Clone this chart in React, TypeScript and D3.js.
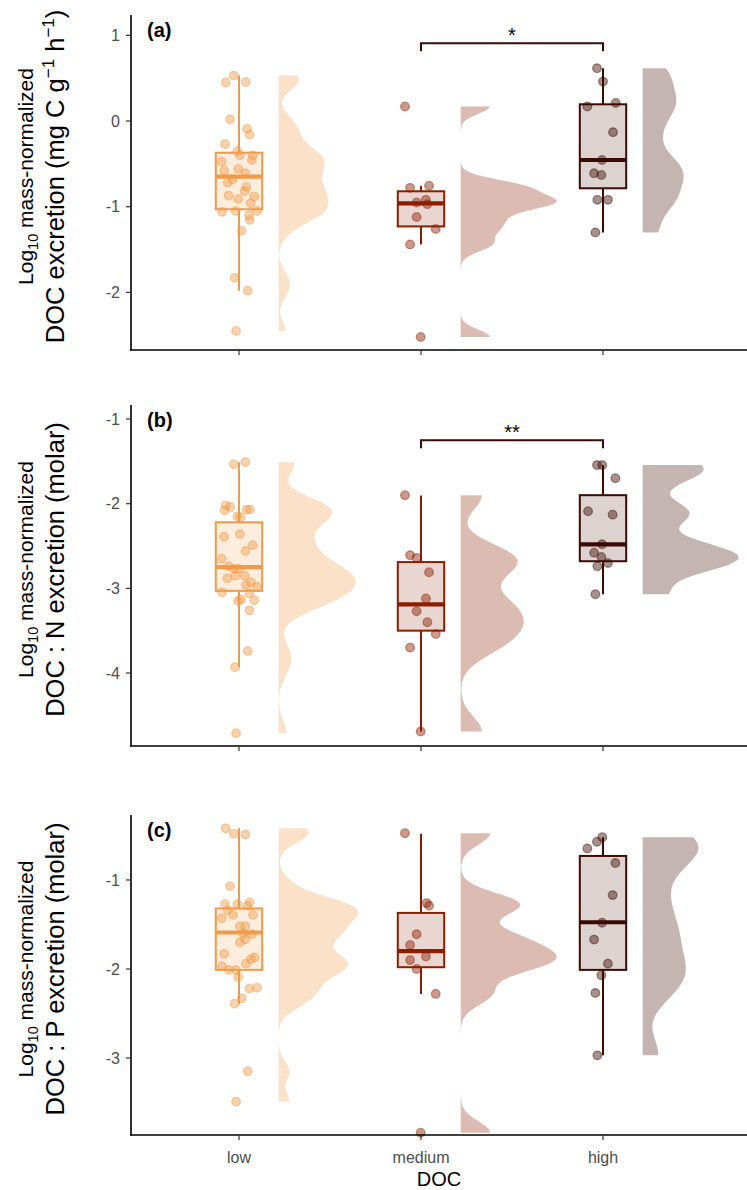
import React from 'react';
import * as d3 from 'd3';

const categories = ['low', 'medium', 'high'];
const colors = ['#EF9B4A', '#8B1E02', '#3B0A02'];

// [value, horizontal jitter in category units]
const aLow: [number, number][] = [
  [0.53, -0.029], [0.45, -0.073], [0.455, 0.037], [0.02, -0.049], [-0.09, 0.044], [-0.16, 0.059],
  [-0.27, -0.077], [-0.35, -0.009], [-0.40, 0.005], [-0.40, 0.075], [-0.455, 0.071], [-0.475, -0.095],
  [-0.58, -0.081], [-0.56, -0.004], [-0.61, 0.035], [-0.68, -0.035], [-0.72, -0.062], [-0.77, 0.040],
  [-0.82, 0.031], [-0.87, -0.057], [-0.88, 0.084], [-0.91, -0.004], [-0.96, 0.064], [-1.06, -0.093],
  [-1.05, -0.018], [-1.05, 0.099], [-1.10, 0.055], [-1.155, 0.059], [-1.28, 0.015], [-1.83, -0.024],
  [-1.98, 0.048], [-2.45, -0.016],
];
const aMed: [number, number][] = [
  [0.17, -0.088], [-0.78, -0.060], [-0.755, 0.044], [-0.95, -0.024], [-0.92, 0.027], [-0.97, 0.035],
  [-1.12, -0.024], [-1.26, 0.081], [-1.44, -0.060], [-2.52, -0.002],
];
const aHigh: [number, number][] = [
  [0.615, -0.033], [0.46, 0], [0.17, -0.086], [0.21, 0.070], [-0.13, 0.055], [-0.455, -0.005],
  [-0.61, -0.049], [-0.63, -0.009], [-0.92, -0.031], [-0.92, 0.027], [-1.30, -0.042],
];
const bLow: [number, number][] = [
  [-1.535, -0.029], [-1.51, 0.035], [-2.02, -0.073], [-2.08, -0.079], [-2.04, -0.048], [-2.07, 0.042],
  [-2.07, 0.060], [-2.15, -0.009], [-2.16, 0.009], [-2.39, -0.082], [-2.36, 0.005], [-2.49, 0.075],
  [-2.56, 0.035], [-2.65, -0.095], [-2.74, -0.057], [-2.77, -0.026], [-2.77, -0.002], [-2.88, -0.064],
  [-2.85, -0.020], [-2.85, 0.031], [-2.93, 0.066], [-2.96, 0.038], [-2.98, 0.099], [-3.05, -0.093],
  [-3.06, 0.057], [-3.13, 0.011], [-3.15, -0.005], [-3.14, 0.084], [-3.26, 0.057], [-3.74, 0.048],
  [-3.93, -0.022], [-4.71, -0.016],
];
const bMed: [number, number][] = [
  [-1.90, -0.088], [-2.61, -0.060], [-2.64, -0.024], [-2.81, 0.044], [-3.12, 0.027], [-3.27, -0.024],
  [-3.40, 0.035], [-3.54, 0.081], [-3.70, -0.060], [-4.69, -0.002],
];
const bHigh: [number, number][] = [
  [-1.545, -0.033], [-1.545, -0.004], [-1.70, 0.068], [-2.09, -0.082], [-2.13, 0.053], [-2.48, -0.005],
  [-2.58, -0.049], [-2.63, -0.009], [-2.74, -0.031], [-2.70, 0.027], [-3.07, -0.042],
];
const cLow: [number, number][] = [
  [-0.42, -0.073], [-0.48, -0.029], [-0.49, 0.035], [-1.07, -0.049], [-1.27, -0.077], [-1.27, -0.009],
  [-1.25, 0.059], [-1.29, 0.046], [-1.34, -0.062], [-1.39, -0.033], [-1.39, 0.077], [-1.43, -0.095],
  [-1.52, 0.005], [-1.52, 0.035], [-1.60, 0.024], [-1.61, 0.071], [-1.67, 0.033], [-1.70, 0.005],
  [-1.83, -0.082], [-1.89, 0.066], [-1.87, 0.084], [-1.94, 0.038], [-1.97, -0.093], [-2.01, -0.057],
  [-2.01, -0.018], [-2.09, -0.004], [-2.22, 0.057], [-2.21, 0.099], [-2.33, 0.015], [-2.39, -0.024],
  [-3.15, 0.048], [-3.49, -0.016],
];
const cMed: [number, number][] = [
  [-0.475, -0.088], [-1.26, 0.031], [-1.29, 0.044], [-1.61, -0.024], [-1.73, -0.060], [-1.86, 0.027],
  [-1.90, -0.060], [-2.00, -0.024], [-2.28, 0.081], [-3.84, -0.002],
];
const cHigh: [number, number][] = [
  [-0.52, -0.004], [-0.57, -0.033], [-0.645, -0.086], [-0.81, 0.068], [-1.17, 0.053], [-1.48, -0.005],
  [-1.67, -0.049], [-1.94, 0.027], [-2.07, -0.009], [-2.27, -0.042], [-2.97, -0.031],
];

// box stats: [lower whisker, q1, median, q3, upper whisker]
const aBoxes = [[-1.98, -1.03, -0.65, -0.37, 0.53], [-1.44, -1.23, -0.96, -0.82, -0.755], [-1.30, -0.785, -0.455, 0.195, 0.615]];
const bBoxes = [[-3.93, -3.03, -2.75, -2.22, -1.51], [-4.69, -3.50, -3.19, -2.69, -1.905], [-3.07, -2.68, -2.48, -1.90, -1.545]];
const cBoxes = [[-2.39, -2.01, -1.59, -1.32, -0.42], [-2.28, -1.98, -1.80, -1.37, -0.48], [-2.97, -2.01, -1.475, -0.73, -0.52]];

const aTicks = [1, 0, -1, -2];
const bTicks = [-1, -2, -3, -4];
const cTicks = [-1, -2, -3];

const aSig = { from: 2, to: 3, y: 0.907, label: '*' };
const bSig = { from: 2, to: 3, y: -1.25, label: '**' };

const FONT = '"Liberation Sans", Arial, Helvetica, sans-serif';
const BW_ADJUST = 0.5;

function nrd0(vals: number[]) {
  const s = vals.slice().sort(d3.ascending);
  const sd = d3.deviation(s) || 1;
  const iqr = (d3.quantileSorted(s, 0.75)! - d3.quantileSorted(s, 0.25)!) / 1.34;
  const lo = Math.min(sd, iqr > 0 ? iqr : sd);
  return 0.9 * lo * Math.pow(s.length, -0.2);
}

function kde(vals: number[]) {
  const bw = nrd0(vals) * BW_ADJUST;
  const mn = d3.min(vals)!, mx = d3.max(vals)!;
  const n = 256;
  const out: [number, number][] = [];
  for (let i = 0; i < n; i++) {
    const y = mn + ((mx - mn) * i) / (n - 1);
    let s = 0;
    for (const v of vals) {
      const z = (y - v) / bw;
      s += Math.exp(-0.5 * z * z);
    }
    out.push([y, s / (vals.length * bw * Math.sqrt(2 * Math.PI))]);
  }
  return out;
}

type PanelProps = {
  groups: [number, number][][];
  boxes: number[][];
  ticks: number[];
  domain: [number, number];
  range: [number, number];
  tag: string;
  sig?: { from: number; to: number; y: number; label: string };
  showX: boolean;
  line2: React.ReactNode;
};

const x = d3.scaleLinear().domain([1, 3]).range([239, 603]);
const X_LEFT = 131;
const X_RIGHT = 747;
const BOX_W = 0.255;
const VIOLIN_OFF = 0.218;
const VIOLIN_MAX = 96;

function Panel({ groups, boxes, ticks, domain, range, tag, sig, showX, line2 }: PanelProps) {
  const y = d3.scaleLinear().domain(domain).range(range);
  const dens = groups.map((g) => kde(g.map((d) => d[0])));
  const maxD = d3.max(dens.flat(), (d) => d[1])!;
  const w = d3.scaleLinear().domain([0, maxD]).range([0, VIOLIN_MAX]);
  const bottom = range[0];
  const top = range[1];
  const mid = (top + bottom) / 2 - 6;
  return (
    <g>
      {dens.map((dd, i) => {
        const x0 = x(i + 1 + VIOLIN_OFF);
        const area = d3
          .area<[number, number]>()
          .y((d) => y(d[0]))
          .x0(x0)
          .x1((d) => x0 + w(d[1]));
        return <path key={'v' + i} d={area(dd)!} fill={colors[i]} fillOpacity={0.3} />;
      })}
      {boxes.map((b, i) => {
        const cx = x(i + 1);
        const hw = (x(1 + BOX_W) - x(1)) / 2;
        return (
          <g key={'b' + i} stroke={colors[i]}>
            <line x1={cx} x2={cx} y1={y(b[0])} y2={y(b[1])} strokeWidth={2} />
            <line x1={cx} x2={cx} y1={y(b[3])} y2={y(b[4])} strokeWidth={2} />
            <rect x={cx - hw} width={2 * hw} y={y(b[3])} height={y(b[1]) - y(b[3])} fill={colors[i]} fillOpacity={0.18} strokeWidth={2} />
            <line x1={cx - hw} x2={cx + hw} y1={y(b[2])} y2={y(b[2])} strokeWidth={4.2} />
          </g>
        );
      })}
      {groups.map((g, i) =>
        g.map((p, j) => (
          <circle
            key={'p' + i + '-' + j}
            cx={x(i + 1 + p[1])}
            cy={y(p[0])}
            r={4.3}
            fill={colors[i]}
            fillOpacity={0.45}
            stroke={colors[i]}
            strokeOpacity={0.45}
            strokeWidth={1.3}
          />
        ))
      )}
      {sig && (
        <g>
          <path
            d={`M${x(sig.from)},${y(sig.y) + 8}V${y(sig.y)}H${x(sig.to)}V${y(sig.y) + 8}`}
            fill="none"
            stroke={colors[2]}
            strokeWidth={2}
          />
          <text x={(x(sig.from) + x(sig.to)) / 2} y={y(sig.y) - 1} textAnchor="middle" fontFamily={FONT} fontSize={20} fill="#000">
            {sig.label}
          </text>
        </g>
      )}
      {/* axes */}
      <line x1={X_LEFT} x2={X_LEFT} y1={top} y2={bottom + 0.75} stroke="#000" strokeWidth={1.6} />
      <line x1={X_LEFT - 0.8} x2={X_RIGHT} y1={bottom} y2={bottom} stroke="#000" strokeWidth={1.6} />
      {ticks.map((t) => (
        <g key={'t' + t}>
          <line x1={X_LEFT - 5} x2={X_LEFT} y1={y(t)} y2={y(t)} stroke="#333" strokeWidth={1.2} />
          <text x={X_LEFT - 11} y={y(t)} dy="0.35em" textAnchor="end" fontFamily={FONT} fontSize={16} fill="#4D4D4D">
            {t < 0 ? '-' + Math.abs(t) : String(t)}
          </text>
        </g>
      ))}
      {categories.map((c, i) => (
        <g key={'x' + c}>
          <line x1={x(i + 1)} x2={x(i + 1)} y1={bottom} y2={bottom + 5} stroke="#333" strokeWidth={1.2} />
          {showX && (
            <text x={x(i + 1)} y={bottom + 28} textAnchor="middle" fontFamily={FONT} fontSize={16} fill="#4D4D4D">
              {c}
            </text>
          )}
        </g>
      ))}
      <text x={147} y={top + 22} fontFamily={FONT} fontSize={20} fontWeight="bold" fill="#000">
        {tag}
      </text>
      <text transform={`translate(33,${mid}) rotate(-90)`} textAnchor="middle" fontFamily={FONT} fontSize={21} fill="#000">
        Log<tspan dy="5" fontSize={14.5}>10</tspan>
        <tspan dy="-5"> mass-normalized</tspan>
      </text>
      <text transform={`translate(64,${mid}) rotate(-90)`} textAnchor="middle" fontFamily={FONT} fontSize={25.5} fill="#000">
        {line2}
      </text>
    </g>
  );
}

export default function App() {
  return (
    <svg width={747} height={1190} style={{ position: 'absolute', left: 0, top: 0, background: '#fff' }}>
      <rect width={747} height={1190} fill="#fff" />
      <Panel
        groups={[aLow, aMed, aHigh]}
        boxes={aBoxes}
        ticks={aTicks}
        domain={[-2.672, 1.237]}
        range={[350, 15]}
        tag="(a)"
        sig={aSig}
        showX={false}
        line2={
          <>
            DOC excretion (mg C g<tspan dy="-10" fontSize={17}>−1</tspan>
            <tspan dy="10"> h</tspan>
            <tspan dy="-10" fontSize={17}>−1</tspan>
            <tspan dy="10">)</tspan>
          </>
        }
      />
      <Panel
        groups={[bLow, bMed, bHigh]}
        boxes={bBoxes}
        ticks={bTicks}
        domain={[-4.862, -0.835]}
        range={[746, 405]}
        tag="(b)"
        sig={bSig}
        showX={false}
        line2={<>DOC : N excretion (molar)</>}
      />
      <Panel
        groups={[cLow, cMed, cHigh]}
        boxes={cBoxes}
        ticks={cTicks}
        domain={[-3.865, -0.27]}
        range={[1135, 815]}
        tag="(c)"
        showX={true}
        line2={<>DOC : P excretion (molar)</>}
      />
      <text x={(X_LEFT + X_RIGHT) / 2} y={1186} textAnchor="middle" fontFamily={FONT} fontSize={20} fill="#000">
        DOC
      </text>
    </svg>
  );
}
